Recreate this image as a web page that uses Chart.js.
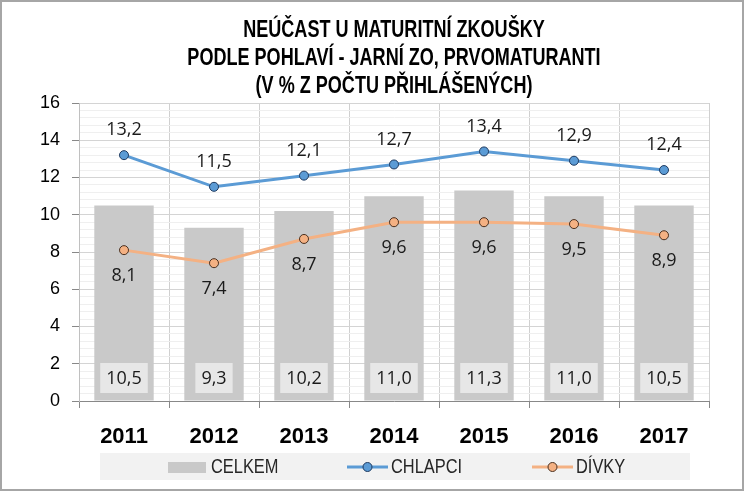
<!DOCTYPE html>
<html>
<head>
    <title>Neúčast u maturitní zkoušky</title>
    <script src="https://cdn.jsdelivr.net/npm/chart.js"></script>
    <style>
        body { margin: 0; background: #fff; }
        #wrap { width: 744px; height: 491px; }
    </style>
</head>
<body>
    <div id="wrap"><canvas id="chart" width="744" height="491"></canvas></div>

    <script>
        const years = ['2011', '2012', '2013', '2014', '2015', '2016', '2017'];
        const celkem = [10.5, 9.3, 10.2, 11.0, 11.3, 11.0, 10.5];
        const chlapci = [13.2, 11.5, 12.1, 12.7, 13.4, 12.9, 12.4];
        const divky = [8.1, 7.4, 8.7, 9.6, 9.6, 9.5, 8.9];
        const titleLines = [
            'NEÚČAST U MATURITNÍ ZKOUŠKY',
            'PODLE POHLAVÍ - JARNÍ ZO, PRVOMATURANTI',
            '(V % Z POČTU PŘIHLÁŠENÝCH)'
        ];

        const sans = '"Liberation Sans", Arial, sans-serif';
        const labelFont = '"Open Sans", "Liberation Sans", sans-serif';
        const fmt = v => v.toFixed(1).replace('.', ',');
        const isMajor = v => Math.abs(v / 2 - Math.round(v / 2)) < 1e-6;

        // uzky text (jako Calibri / Arial Narrow) - stlaceni vodorovne
        function narrowText(c, txt, x, y, sx) {
            c.save();
            c.translate(x, y);
            c.scale(sx, 1);
            c.fillText(txt, 0, 0);
            c.restore();
        }

        // vlastni kresleni: ramecek, titulek, legenda, popisky hodnot
        const extras = {
            id: 'extras',
            afterDraw(chart) {
                const c = chart.ctx;
                const area = chart.chartArea;
                c.save();

                // ramecek grafu
                c.strokeStyle = '#a6a6a6';
                c.lineWidth = 2;
                c.strokeRect(1, 1, 742, 489);

                // titulek
                c.fillStyle = '#000';
                c.font = 'bold 23px ' + sans;
                c.textAlign = 'center';
                c.textBaseline = 'middle';
                const cx = (area.left + area.right) / 2;
                titleLines.forEach((t, i) => narrowText(c, t, cx, 31 + i * 28, 0.785));

                // popisky sloupcu
                const barMeta = chart.getDatasetMeta(0);
                c.font = '18px ' + labelFont;
                barMeta.data.forEach((bar, i) => {
                    const txt = fmt(celkem[i]);
                    const w = c.measureText(txt).width + 12;
                    const y = area.bottom - 23;
                    c.fillStyle = '#e7e7e7';
                    c.fillRect(bar.x - w / 2, y - 15, w, 30);
                    c.fillStyle = '#1a1a1a';
                    c.fillText(txt, bar.x, y + 1);
                });

                // popisky car
                chart.getDatasetMeta(1).data.forEach((p, i) => {
                    c.fillText(fmt(chlapci[i]), p.x, p.y - 25);
                });
                chart.getDatasetMeta(2).data.forEach((p, i) => {
                    c.fillText(fmt(divky[i]), p.x, p.y + 26);
                });

                // legenda
                c.fillStyle = '#f2f2f2';
                c.fillRect(100, 453, 590, 27);
                c.font = '20px ' + sans;
                c.textAlign = 'left';
                c.fillStyle = '#c9c9c9';
                c.fillRect(168, 462, 38, 11);
                c.fillStyle = '#262626';
                narrowText(c, 'CELKEM', 211, 467, 0.82);

                const legLine = (x1, x2, col, fill, edge, label) => {
                    c.strokeStyle = col;
                    c.lineWidth = 3;
                    c.beginPath();
                    c.moveTo(x1, 467);
                    c.lineTo(x2, 467);
                    c.stroke();
                    c.beginPath();
                    c.arc((x1 + x2) / 2, 467, 4.5, 0, Math.PI * 2);
                    c.fillStyle = fill;
                    c.fill();
                    c.lineWidth = 1;
                    c.strokeStyle = edge;
                    c.stroke();
                    c.fillStyle = '#262626';
                    narrowText(c, label, x2 + 3, 467, 0.82);
                };
                legLine(347, 388, '#5b9bd5', '#5b9bd5', '#1f3a5f', 'CHLAPCI');
                legLine(532, 573, '#f4b183', '#f4b183', '#4a3020', 'DÍVKY');

                c.restore();
            }
        };

        const ctx = document.getElementById('chart').getContext('2d');
        const chart = new Chart(ctx, {
            type: 'bar',
            data: {
                labels: years,
                datasets: [{
                    label: 'CELKEM',
                    data: celkem,
                    backgroundColor: '#c9c9c9',
                    barPercentage: 0.66,
                    categoryPercentage: 1,
                    order: 2
                }, {
                    type: 'line',
                    label: 'CHLAPCI',
                    data: chlapci,
                    borderColor: '#5b9bd5',
                    borderWidth: 3,
                    pointRadius: 4.5,
                    pointBackgroundColor: '#5b9bd5',
                    pointBorderColor: '#1f3a5f',
                    pointBorderWidth: 1,
                    tension: 0,
                    order: 0
                }, {
                    type: 'line',
                    label: 'DÍVKY',
                    data: divky,
                    borderColor: '#f4b183',
                    borderWidth: 3,
                    pointRadius: 4.5,
                    pointBackgroundColor: '#f4b183',
                    pointBorderColor: '#4a3020',
                    pointBorderWidth: 1,
                    tension: 0,
                    order: 1
                }]
            },
            options: {
                responsive: false,
                animation: false,
                layout: { padding: { top: 103, right: 35, bottom: 0, left: 0 } },
                plugins: {
                    legend: { display: false },
                    title: { display: false },
                    tooltip: { enabled: false }
                },
                scales: {
                    x: {
                        afterFit: s => { s.height = 90; },
                        grid: { color: '#d0d0d0', tickLength: 7, tickColor: '#888' },
                        border: { color: '#888' },
                        ticks: {
                            color: '#000',
                            padding: 16,
                            font: { family: sans, size: 22, weight: 'bold' }
                        }
                    },
                    y: {
                        min: 0,
                        max: 16,
                        afterFit: s => { s.width = 79; },
                        grid: {
                            color: ctx => isMajor(ctx.tick.value) ? '#d4d4d4' : '#efefef',
                            tickColor: ctx => isMajor(ctx.tick.value) ? '#888' : 'rgba(0,0,0,0)',
                            tickLength: 7
                        },
                        border: { color: '#c0c0c0' },
                        ticks: {
                            stepSize: 0.4,
                            autoSkip: false,
                            padding: 12,
                            color: '#000',
                            font: { family: sans, size: 18 },
                            callback: v => isMajor(v) ? Math.round(v) : ''
                        }
                    }
                }
            },
            plugins: [extras]
        });
    </script>
</body>
</html>
